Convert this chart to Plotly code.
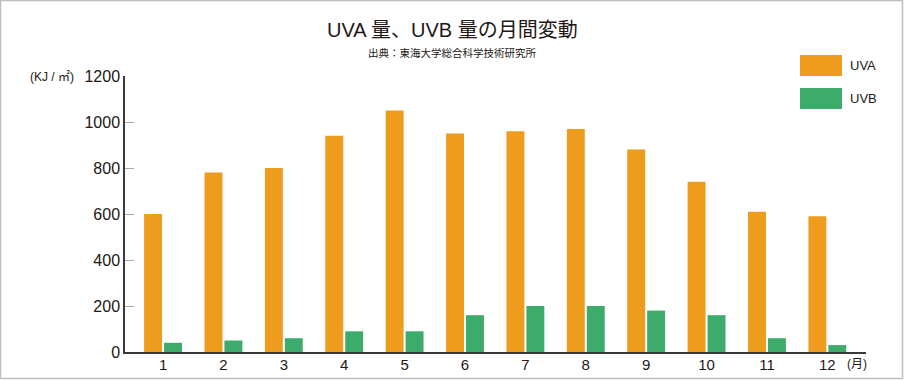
import plotly.graph_objects as go

months = ["1", "2", "3", "4", "5", "6", "7", "8", "9", "10", "11", "12"]
uva = [600, 780, 800, 940, 1050, 950, 960, 970, 880, 740, 610, 590]
uvb = [40, 50, 60, 90, 90, 160, 200, 200, 180, 160, 60, 30]
series_names = ["UVA", "UVB"]
colors = ["#ED9C1E", "#3CAB6B"]
y_ticks = [0, 200, 400, 600, 800, 1000, 1200]

FONT = "Liberation Sans, Arial, Noto Sans CJK JP, sans-serif"
W, H = 904, 380
L, R, T, B = 125, 866, 76, 352

fig = go.Figure()
for name, vals, c in zip(series_names, [uva, uvb], colors):
    fig.add_trace(go.Bar(x=list(range(len(months))), y=vals, name=name,
                         marker=dict(color=c, line=dict(width=0)), showlegend=False))

fig.update_layout(
    width=W, height=H,
    margin=dict(l=L, r=W - R, t=T, b=H - B, pad=0, autoexpand=False),
    paper_bgcolor="white", plot_bgcolor="white",
    barmode="group", bargap=0.34, bargroupgap=0.1,
    font=dict(family=FONT, color="#231815"),
    xaxis=dict(range=[-0.63, 11.64], tickmode="array", tickvals=list(range(12)), ticktext=months,
               showline=True, linecolor="#3a3a3a", linewidth=1.5, ticks="", showgrid=False,
               zeroline=False, tickfont=dict(size=15, color="#231815"), automargin=False,
               ticklabelstandoff=-2),
    yaxis=dict(range=[0, 1200], tickvals=y_ticks, showline=True, linecolor="#3a3a3a", linewidth=1.5,
               ticks="inside", ticklen=9, tickcolor="#aaaaaa", tickwidth=1, showgrid=False,
               zeroline=False, tickfont=dict(size=16, color="#231815"), ticklabelstandoff=0,
               automargin=False),
)

pw, ph = R - L, B - T
def px(x): return (x - L) / pw
def py(y): return (B - y) / ph

# border
fig.add_shape(type="rect", xref="paper", yref="paper", x0=px(0.5), x1=px(W - 1.5), y0=py(0.5), y1=py(H - 1.5),
              line=dict(color="#bfbfbf", width=1.5), layer="below")

fig.add_annotation(text="UVA 量、UVB 量の月間変動", xref="paper", yref="paper", x=px(452), y=py(30),
                   showarrow=False, font=dict(size=20, color="#231815", family=FONT), xanchor="center", yanchor="middle")
fig.add_annotation(text="出典：東海大学総合科学技術研究所", xref="paper", yref="paper", x=px(452), y=py(53),
                   showarrow=False, font=dict(size=10.5, color="#231815", family=FONT), xanchor="center", yanchor="middle")
fig.add_annotation(text="(KJ / ㎡)", xref="paper", yref="paper", x=px(76), y=py(77),
                   showarrow=False, font=dict(size=12, color="#231815", family=FONT), xanchor="right", yanchor="middle")
fig.add_annotation(text="(月)", xref="paper", yref="paper", x=px(845), y=py(364),
                   showarrow=False, font=dict(size=12, color="#231815", family=FONT), xanchor="left", yanchor="middle")

# legend
for i, (name, c) in enumerate(zip(series_names, colors)):
    y0 = 55 + i * 33
    fig.add_shape(type="rect", xref="paper", yref="paper", x0=px(800), x1=px(842), y0=py(y0 + 21), y1=py(y0),
                  fillcolor=c, line=dict(width=0))
    fig.add_annotation(text=name, xref="paper", yref="paper", x=px(848), y=py(y0 + 10.5),
                       showarrow=False, font=dict(size=13, color="#231815", family=FONT), xanchor="left", yanchor="middle")

fig.write_html("out.html", config={"displayModeBar": False},
               post_script="document.body.style.margin='0';document.body.style.overflow='hidden';")
